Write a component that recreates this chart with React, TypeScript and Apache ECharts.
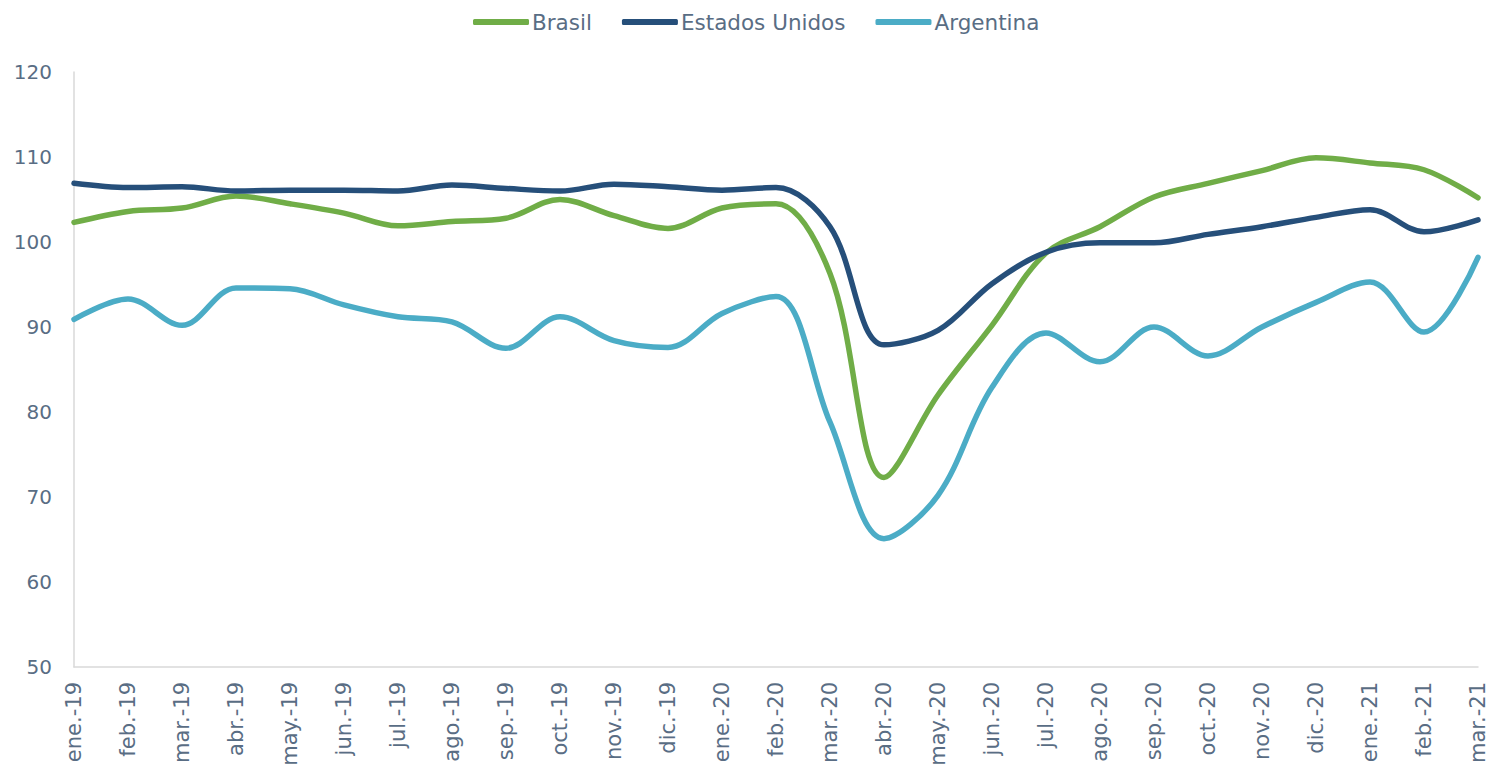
import React, { useEffect, useRef } from "react";
import * as echarts from "echarts";

const categories = [
  "ene.-19", "feb.-19", "mar.-19", "abr.-19", "may.-19", "jun.-19", "jul.-19", "ago.-19", "sep.-19",
  "oct.-19", "nov.-19", "dic.-19", "ene.-20", "feb.-20", "mar.-20", "abr.-20", "may.-20", "jun.-20",
  "jul.-20", "ago.-20", "sep.-20", "oct.-20", "nov.-20", "dic.-20", "ene.-21", "feb.-21", "mar.-21",
];

const brasil = [
  102.3, 103.6, 104.0, 105.4, 104.5, 103.4, 101.9, 102.4, 102.8, 105.0, 103.1, 101.6, 104.0, 104.5,
  96.3, 72.3, 82.0, 90.2, 98.7, 101.8, 105.3, 106.9, 108.4, 109.9, 109.3, 108.5, 105.2,
];

const estadosUnidos = [
  106.9, 106.4, 106.5, 106.0, 106.1, 106.1, 106.0, 106.7, 106.3, 106.0, 106.8, 106.5, 106.1, 106.4,
  101.8, 87.9, 89.6, 95.1, 98.8, 99.9, 99.9, 100.9, 101.8, 102.9, 103.8, 101.2, 102.6,
];

const argentina = [
  90.9, 93.3, 90.2, 94.6, 94.5, 92.6, 91.2, 90.6, 87.5, 91.2, 88.4, 87.6, 91.6, 93.6,
  78.8, 65.1, 70.2, 82.9, 89.3, 85.9, 90.0, 86.6, 90.0, 92.9, 95.3, 89.4, 98.2,
];

const yTicks = { min: 50, max: 120, interval: 10 };

const FONT = "Verdana, 'DejaVu Sans', sans-serif";
const TEXT = "#596d84";

export default function App() {
  const ref = useRef<HTMLDivElement>(null);

  useEffect(() => {
    document.body.style.margin = "0";
    if (!ref.current) return;
    const chart = echarts.init(ref.current, undefined, { renderer: "svg" });
    const mk = (name: string, data: number[], color: string) => ({
      name,
      type: "line",
      data,
      smooth: 0.35,
      symbol: "none",
      lineStyle: { width: 5.5, color, cap: "round", join: "round" },
      itemStyle: { color },
    });
    chart.setOption({
      animation: false,
      backgroundColor: "#ffffff",
      textStyle: { fontFamily: FONT },
      legend: {
        top: 6,
        left: 468,
        itemWidth: 56,
        itemHeight: 6,
        itemGap: 30,
        icon: "roundRect",
        textStyle: { color: TEXT, fontSize: 21.5, fontFamily: FONT, padding: [0, 0, 0, -2] },
        data: ["Brasil", "Estados Unidos", "Argentina"],
      },
      grid: { left: 74, right: 13, top: 72, bottom: 104, containLabel: false },
      xAxis: {
        type: "category",
        data: categories,
        boundaryGap: false,
        axisLine: { show: true, lineStyle: { color: "#d9d9d9", width: 1.5 } },
        axisTick: { show: false },
        axisLabel: {
          rotate: 90,
          interval: 0,
          margin: 15,
          color: TEXT,
          fontSize: 21,
          fontFamily: FONT,
        },
        splitLine: { show: false },
      },
      yAxis: {
        type: "value",
        min: yTicks.min,
        max: yTicks.max,
        interval: yTicks.interval,
        axisLine: { show: true, lineStyle: { color: "#d9d9d9", width: 1.5 } },
        axisTick: { show: false },
        splitLine: { show: false },
        axisLabel: { color: TEXT, fontSize: 20, fontFamily: FONT, margin: 22 },
      },
      series: [
        mk("Brasil", brasil, "#70ad47"),
        mk("Estados Unidos", estadosUnidos, "#264f7a"),
        mk("Argentina", argentina, "#4bacc6"),
      ],
    });
    return () => chart.dispose();
  }, []);

  return <div ref={ref} style={{ width: 1491, height: 771 }} />;
}
